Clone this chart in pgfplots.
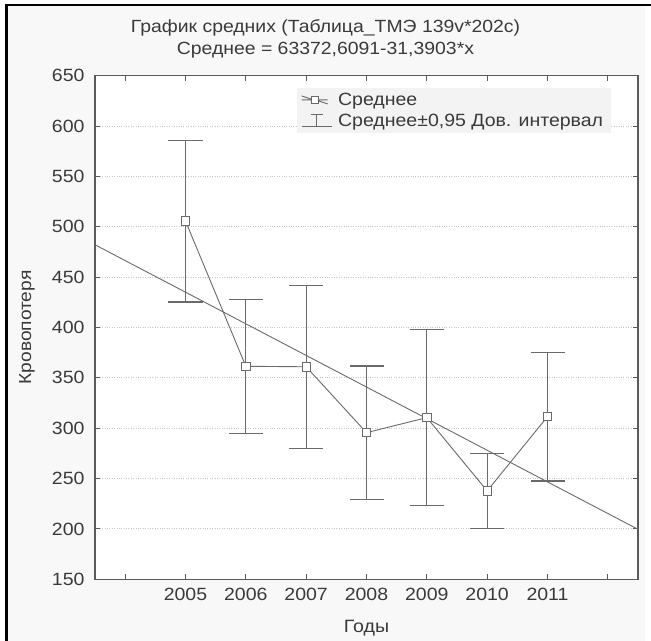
\documentclass[border=0pt]{standalone}
\usepackage{pgfplots}
\pgfplotsset{compat=1.18}
\usepackage{fontspec}
\setmainfont{Liberation Sans}[FakeStretch=1.1]
\definecolor{bgc}{HTML}{F8F8F8}
\definecolor{legbg}{HTML}{F3F3F3}
\definecolor{lc}{HTML}{6A6A6A}
\definecolor{axc}{HTML}{5A5A5A}
\definecolor{txt}{HTML}{3A3A3A}
\definecolor{gridc}{HTML}{C8C8C8}
\begin{document}
\begin{tikzpicture}
\useasboundingbox (0,0) rectangle (651bp,641bp);
\fill[bgc] (7bp,0) rectangle (645bp,636bp);
\draw[black, line width=2.5bp] (6.5bp,0) -- (6.5bp,636bp) -- (651bp,636bp);
\node[font=\fontsize{17.7}{20}\selectfont, text=txt] at (325.5bp,613bp) {График средних (Таблица\_ТМЭ 139v*202c)};
\node[font=\fontsize{17.7}{20}\selectfont, text=txt] at (325.5bp,591bp) {Среднее = 63372,6091-31,3903*x};
\begin{axis}[
  at={(95bp,61.7bp)}, anchor=south west,
  scale only axis, width=543bp, height=503.6bp,
  xmin=2003.5, xmax=2012.5, ymin=150, ymax=650,
  axis background/.style={fill=white},
  axis line style={axc, line width=1.3bp},
  xtick={2004,2005,...,2012},
  xticklabels={,2005,2006,2007,2008,2009,2010,2011,},
  ytick={150,200,...,650},
  major tick length=5bp,
  tick style={axc, line width=1bp},
  tick align=inside,
  /pgf/number format/assume math mode=true,
  /pgf/number format/1000 sep={},
  ticklabel style={font=\fontsize{17.8}{20}\selectfont, text=txt},
  yticklabel style={xshift=-7bp},
  xticklabel style={yshift=-5bp},
  ymajorgrids,
  major grid style={gridc, dotted, line width=1bp},
  xlabel={Годы}, ylabel={Кровопотеря},
  every axis x label/.style={at={(axis description cs:0.5,-0.0967)}, anchor=center, font=\fontsize{17.9}{20}\selectfont, text=txt},
  every axis y label/.style={at={(axis description cs:-0.1252,0.5)}, anchor=center, rotate=90, font=\fontsize{17.5}{20}\selectfont, text=txt},
  legend style={at={(0.372,0.976)}, anchor=north west, fill=legbg, draw=none, font=\fontsize{17.8}{21}\selectfont, text=txt, inner xsep=4bp, inner ysep=3bp, row sep=3bp,
    nodes={inner xsep=4bp}},
  legend cell align=left,
]
% trend line
\addplot[lc, line width=0.9bp, forget plot] coordinates {(2003.5,482.143) (2012.5,199.630)};
% error bars
\addplot[draw=none, mark=none, forget plot,
  error bars/.cd, y dir=both, y explicit,
  error bar style={draw=lc, line width=1.1bp},
  error mark options={draw=lc, rotate=90, mark size=17bp, line width=1.1bp}]
  table[x=x, y=m, y error=e] {
x m e
2005 505.7 80.4
2006 361.5 66.5
2007 361.0 81.0
2008 295.6 66.2
2009 310.5 87.5
2010 237.8 37.2
2011 311.5 63.9
};
% means
\addplot[lc, line width=0.9bp, mark=square*, mark size=4.2bp, mark options={fill=white, draw=lc, line width=0.9bp},
  legend image code/.code={
    \path (0bp,0bp) (32bp,0bp);
    \draw[lc, line width=0.9bp] (0bp,4bp) -- (12bp,0bp) (0bp,0bp) -- (26bp,0bp) (14bp,0bp) -- (26bp,-4bp);
    \draw[lc, line width=0.9bp, fill=white] (9.5bp,-3.5bp) rectangle (16.5bp,3.5bp);
  }]
  table[x=x, y=m] {
x m
2005 505.7
2006 361.5
2007 361.0
2008 295.6
2009 310.5
2010 237.8
2011 311.5
};
\addlegendentry{Среднее}
\addlegendimage{legend image code/.code={
    \path (0bp,0bp) (32bp,0bp);
    \draw[lc, line width=0.9bp] (0bp,-6bp) -- (30bp,-6bp) (15bp,-6bp) -- (15bp,6bp) (9bp,6bp) -- (21bp,6bp);
  }}
\addlegendentry{Среднее±0,95 Дов. интервал}
\end{axis}
\end{tikzpicture}
\end{document}
